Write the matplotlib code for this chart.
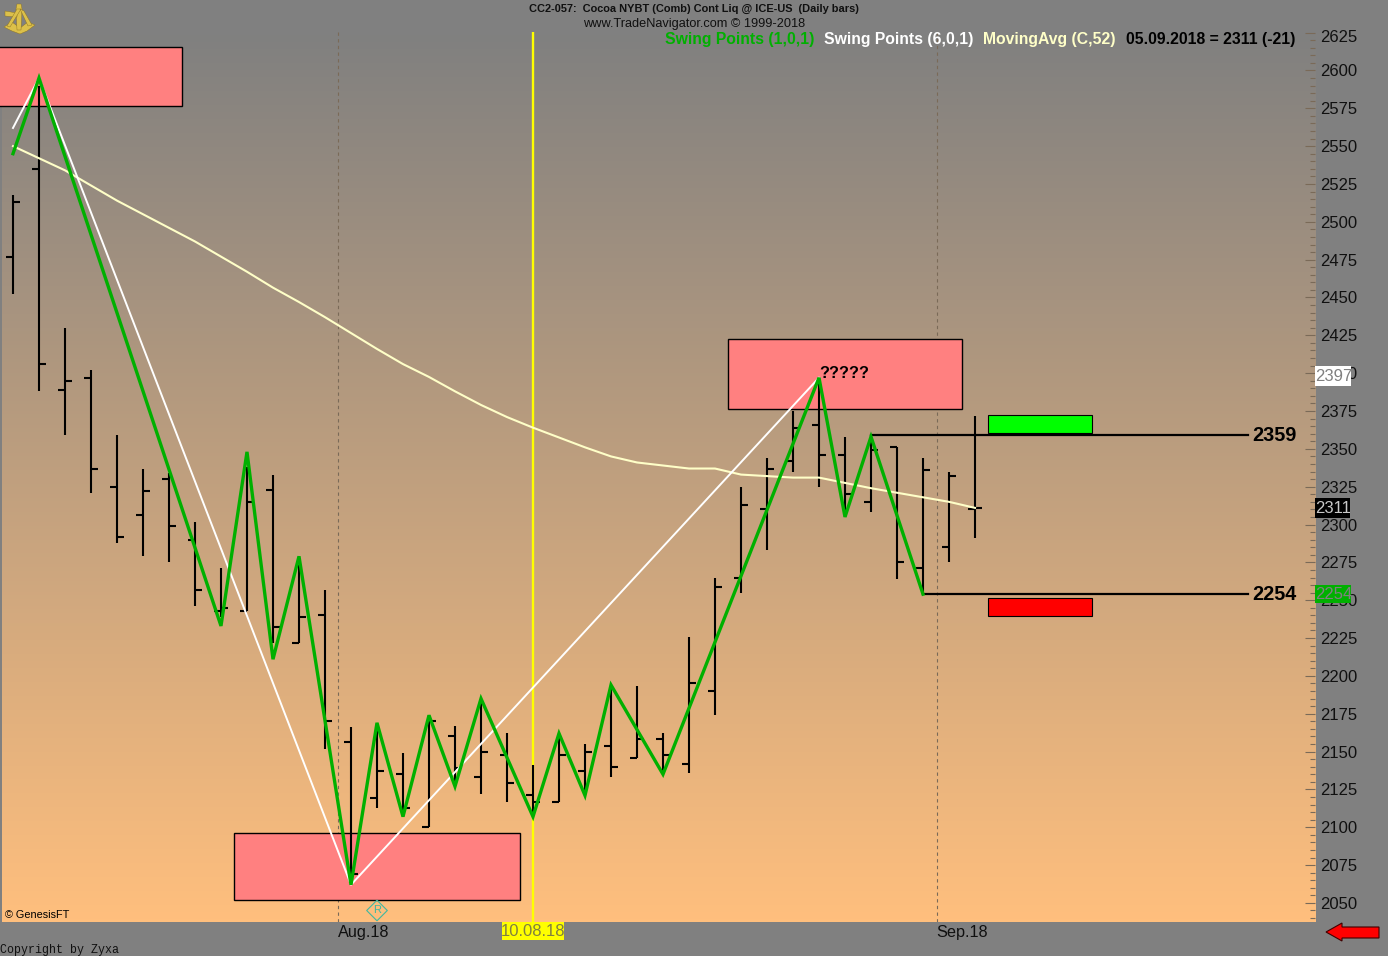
import numpy as np
import matplotlib
matplotlib.use("Agg")
import matplotlib.pyplot as plt
from matplotlib.patches import Rectangle, Polygon

W, H = 1388, 956
plt.rcParams['font.family'] = ['Liberation Sans', 'DejaVu Sans']

# daily bars (bar index = trading day in the window)
opens = [2477, 2535, 2389, 2397, 2325, 2306, 2330, 2290, 2243, 2243, 2323, 2222, 2240,
         2156, 2119, 2135, 2100, 2160, 2133, 2148, 2121, 2117, 2137, 2154, 2146, 2158,
         2142, 2190, 2265, 2310, 2342, 2366, 2346, 2315, 2351, 2271, 2285, 2310]
highs = [2518, 2590, 2430, 2402, 2359, 2337, 2334, 2302, 2271, 2338, 2333, 2273, 2257,
         2166, 2166, 2149, 2174, 2167, 2185, 2162, 2141, 2162, 2155, 2194, 2193, 2162,
         2226, 2265, 2325, 2344, 2375, 2397, 2358, 2359, 2351, 2344, 2335, 2372]
lows = [2452, 2388, 2359, 2321, 2288, 2279, 2275, 2246, 2239, 2243, 2222, 2222, 2152,
        2062, 2113, 2107, 2100, 2129, 2122, 2117, 2108, 2117, 2121, 2133, 2146, 2135,
        2136, 2174, 2255, 2283, 2335, 2325, 2305, 2308, 2264, 2254, 2275, 2291]
closes = [2513, 2406, 2395, 2337, 2292, 2322, 2299, 2257, 2245, 2315, 2232, 2239, 2170,
          2069, 2137, 2113, 2170, 2139, 2150, 2129, 2117, 2148, 2150, 2140, 2158, 2148,
          2195, 2259, 2313, 2337, 2364, 2346, 2320, 2349, 2275, 2336, 2332, 2311]

moving_avg = [2550, 2542, 2534, 2524, 2514, 2505, 2496, 2487, 2477, 2467, 2456.5, 2447,
              2437, 2426.5, 2416, 2406, 2397.5, 2388, 2379, 2371, 2364, 2357.5, 2351, 2345,
              2341, 2339, 2337, 2337, 2333, 2332, 2331, 2331, 2327.5, 2324, 2321, 2318,
              2315, 2311]

swing_fast_idx = [0, 1, 8, 9, 10, 11, 13, 14, 15, 16, 17, 18, 20, 21, 22, 23, 25, 31, 32, 33, 35]
swing_fast = [2545, 2595, 2233, 2348, 2211, 2279, 2062, 2169, 2107, 2174, 2127, 2185,
              2107, 2162, 2121, 2194, 2135, 2397, 2305, 2358, 2254]
swing_slow_idx = [0, 1, 13, 31]
swing_slow = [2562, 2595, 2062, 2397]

y_ticks = list(range(2050, 2626, 25))
month_ticks = [12.5, 35.52]
month_labels = ['Aug.18', 'Sep.18']

BG = '#808080'
PINK = '#FF8080'
GREEN = '#00B000'
CREAM = '#FFFFC8'
GRIDC = '#7A6A58'


def fx(x):
    return x / W


def fy(y):
    return 1 - y / H


fig = plt.figure(figsize=(W / 100, H / 100), dpi=100, facecolor=BG)
ax = fig.add_axes([fx(1.5), fy(922), fx(1315 - 1.5), (922 - 32) / H])

# background gradient, grey at the top to orange at the bottom
top = np.array([128, 128, 128]) / 255
bottom = np.array([255, 191, 125]) / 255
grad = np.linspace(0, 1, 256)[:, None, None] * (bottom - top) + top
xlim = (-0.442, 50.077)
ylim = (2037.4, 2625.4)
ax.imshow(grad, extent=(xlim[0], xlim[1], ylim[0], ylim[1]), aspect='auto', origin='upper', zorder=0)
ax.set_xlim(xlim)
ax.set_ylim(ylim)
ax.set_facecolor(BG)
for s in ax.spines.values():
    s.set_visible(False)

# dotted grid
gx, gy = np.meshgrid(np.arange(0, 50), y_ticks)
ax.scatter(gx.ravel(), gy.ravel(), s=0.5, marker='s', color='#7A5A3A', alpha=0.35, linewidths=0, zorder=1)
for m in month_ticks:
    ax.axvline(m, color=GRIDC, lw=0.8, ls=(0, (3, 3)), zorder=1)

# boxes
ax.add_patch(Rectangle((-1, 2576.5), 7.5, 39, fc=PINK, ec='black', lw=1.0, zorder=2, clip_on=False))
for x0, x1, y0, y1 in [(8.5, 19.5, 2052, 2096), (27.5, 36.5, 2376.4, 2422.6)]:
    ax.add_patch(Rectangle((x0, y0), x1 - x0, y1 - y0, fc=PINK, ec='black', lw=1.0, zorder=2))
ax.add_patch(Rectangle((37.5, 2360.5), 4, 11.9, fc='#00FF00', ec='black', lw=0.8, zorder=2))
ax.add_patch(Rectangle((37.5, 2239.6), 4, 11.9, fc='#FF0000', ec='black', lw=0.8, zorder=2))

# yellow cursor line
ax.axvline(20, color='#FFFF00', lw=1.7, zorder=3)

# bars
idx = np.arange(len(opens))
ax.vlines(idx, lows, highs, color='black', lw=1.5, zorder=4)
ax.hlines(opens, idx - 0.28, idx, color='black', lw=1.5, zorder=4)
ax.hlines(closes, idx, idx + 0.28, color='black', lw=1.5, zorder=4)

# stop levels
ax.plot([33, 47.5], [2359, 2359], color='black', lw=1.6, zorder=4)
ax.plot([35, 47.5], [2254, 2254], color='black', lw=1.6, zorder=4)
ax.text(47.65, 2359, '2359', fontsize=14.3, fontweight='bold', va='center', ha='left', color='black', zorder=6)
ax.text(47.65, 2254, '2254', fontsize=14.3, fontweight='bold', va='center', ha='left', color='black', zorder=6)

# indicator lines
ax.plot(idx, moving_avg, color=CREAM, lw=1.5, zorder=5)
ax.plot(swing_slow_idx, swing_slow, color='white', lw=1.4, zorder=5)
ax.plot(swing_fast_idx, swing_fast, color=GREEN, lw=2.4, solid_joinstyle='miter', zorder=6)

ax.text(31.0, 2400, '?????', fontsize=11.8, fontweight='bold', va='center', ha='left', color='black', zorder=7)

# R marker below the low
ax.scatter([14], [2045], marker='D', s=110, fc='none', ec='#3FB8A0', lw=0.8, zorder=6)
ax.text(14, 2045, 'R', fontsize=8, color='#3FB8A0', ha='center', va='center', zorder=6)

ax.text(-0.31, 2042, '\u00a9 GenesisFT', fontsize=7.8, ha='left', va='center', color='black', zorder=6)

# axes
ax.yaxis.tick_right()
ax.set_yticks(y_ticks)
ax.set_yticklabels([str(v) if v != 2625 else '' for v in y_ticks])
ax.set_yticks(np.arange(2040, 2626, 5), minor=True)
ax.tick_params(axis='y', which='major', direction='in', length=7.2, width=0.8, color=GRIDC, pad=3.6,
               labelsize=12, labelcolor='#101010')
ax.tick_params(axis='y', which='minor', direction='in', length=3.6, width=0.8, color=GRIDC)
ax.set_xticks(month_ticks)
ax.set_xticklabels(month_labels, ha='left', fontsize=11.7, color='#101010')
ax.tick_params(axis='x', length=0, pad=2)

fig.text(fx(1320), fy(37.5), '2625', fontsize=12, color='#101010', va='center', ha='left')

# header text
fig.text(fx(694), fy(9), 'CC2-057:  Cocoa NYBT (Comb) Cont Liq @ ICE-US  (Daily bars)', fontsize=7.9,
         fontweight='bold', ha='center', va='center', color='#101010')
fig.text(fx(694.5), fy(24.5), 'www.TradeNavigator.com \u00a9 1999-2018', fontsize=9.2,
         ha='center', va='center', color='#101010')
legend_items = [(665, 'Swing Points (1,0,1)', GREEN), (824, 'Swing Points (6,0,1)', 'white'),
                (983, 'MovingAvg (C,52)', CREAM), (1126, '05.09.2018 = 2311 (-21)', 'black')]
for lx, txt, col in legend_items:
    fig.text(fx(lx), fy(39.5), txt, fontsize=11.35, fontweight='bold', ha='left', va='center', color=col)

fig.text(fx(0), fy(950), 'Copyright by Zyxa', fontsize=8.4, family=['Liberation Mono'], ha='left', va='center', color='#101010')

# price flags on the axis
for x0, y0, x1, y1, fc, tc, txt in [(1315, 366, 1351, 386, 'white', '#808080', '2397'),
                                    (1315, 498, 1350, 518, 'black', '#C8C8C8', '2311'),
                                    (1315, 585, 1351, 603, '#00B000', '#808080', '2254')]:
    fig.add_artist(Rectangle((fx(x0), fy(y1)), fx(x1 - x0), (y1 - y0) / H, fc=fc, ec='none',
                             transform=fig.transFigure, zorder=5))
    fig.text(fx(x0 + 0.5), fy((y0 + y1) / 2 + 0.5), txt, fontsize=12, color=tc, ha='left', va='center', zorder=6)

# date flag
fig.add_artist(Rectangle((fx(502), fy(940)), fx(62), 18 / H, fc='#FFFF00', ec='none',
                         transform=fig.transFigure, zorder=5))
fig.text(fx(533), fy(931.5), '10.08.18', fontsize=12, color='#808040', ha='center', va='center', zorder=6)

# red arrow in the corner
arrow = [(1326, 932), (1342, 923), (1342, 927), (1379, 927), (1379, 938), (1342, 938), (1342, 941)]
fig.add_artist(Polygon([(fx(a), fy(b)) for a, b in arrow], closed=True, fc='#FF0000', ec='#400000', lw=0.8,
                       transform=fig.transFigure, zorder=5))

# sextant logo, roughly
GOLD = '#DCC04A'
logo = [[(4, 27), (12, 22), (20, 28), (28, 22), (35, 25), (27, 31), (20, 34), (12, 31)],
        [(17, 4), (21, 4), (22, 9), (21, 30), (17, 30), (16, 9)],
        [(5, 11), (17, 13), (17, 17), (5, 16)],
        [(17, 9), (21, 9), (10, 27), (7, 26)],
        [(20, 9), (24, 11), (32, 25), (28, 26)]]
for pts in logo:
    fig.add_artist(Polygon([(fx(a), fy(b)) for a, b in pts], closed=True, fc=GOLD, ec='#8A7020', lw=0.3,
                           transform=fig.transFigure, zorder=5))

fig.savefig('out.png', dpi=100, facecolor=BG)
